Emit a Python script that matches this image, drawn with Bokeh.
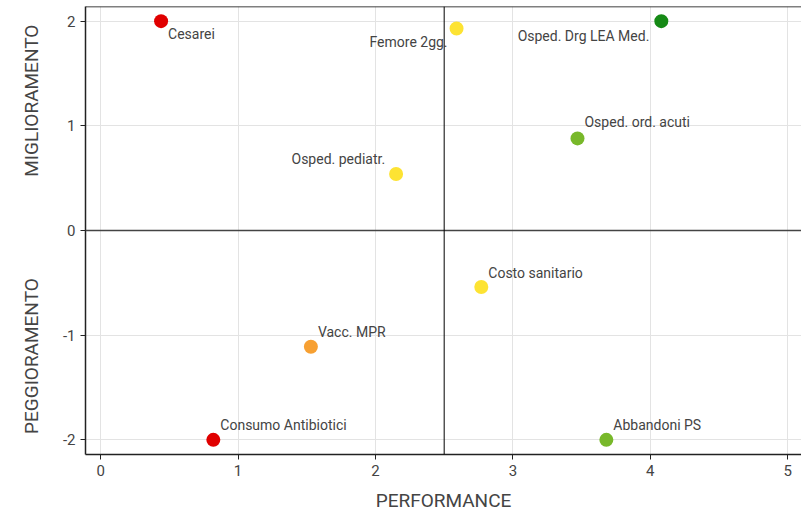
import math
from bokeh.plotting import figure
from bokeh.layouts import row
from bokeh.models import Span, ColumnDataSource, Range1d, FixedTicker, PrintfTickFormatter
from bokeh.core.properties import value
from bokeh.embed import file_html
from bokeh.resources import INLINE

names = ["Cesarei", "Femore 2gg.", "Osped. Drg LEA Med.", "Osped.  ord. acuti",
         "Osped. pediatr.", "Costo sanitario", "Vacc. MPR", "Consumo Antibiotici", "Abbandoni PS"]
performance = [0.44, 2.59, 4.08, 3.47, 2.15, 2.77, 1.53, 0.82, 3.68]
trend = [2.0, 1.93, 2.0, 0.88, 0.54, -0.54, -1.11, -2.0, -2.0]
colors = ["#e00000", "#fde333", "#168a16", "#78b82a", "#fde333", "#fde333", "#f7a032", "#e00000", "#78b82a"]
x_ticks = [0, 1, 2, 3, 4, 5]
y_ticks = [-2, -1, 0, 1, 2]
y_titles = ["MIGLIORAMENTO", "PEGGIORAMENTO"]
y_title_pos = [1.24, -1.2]

# label placement (screen px) and alignment
lab_dx = [7, -9, -12, 7, -11, 7, 7, 7, 7]
lab_dy = [13, 14, 15, -16, -15, -14, -15, -15, -15]
lab_align = ["left", "right", "right", "left", "right", "left", "left", "left", "left"]

FONT = "Roboto"
src = ColumnDataSource(dict(x=performance, y=trend, c=colors, name=names,
                            dx=lab_dx, dy=lab_dy, al=lab_align))

yr = Range1d(-2.14, 2.14)

# narrow strip carrying the two vertical axis titles
side = figure(frame_width=50, frame_height=448, output_backend="svg", toolbar_location=None,
              x_range=Range1d(0, 1), y_range=yr,
              min_border_left=0, min_border_right=0, min_border_top=6, min_border_bottom=60)
side.axis.visible = False
side.grid.visible = False
side.outline_line_color = None
side.text(x=[0.62, 0.62], y=y_title_pos, text=y_titles, angle=math.pi / 2,
          text_align="center", text_baseline="middle", text_font=value(FONT),
          text_font_size="19px", text_color="#444444")

p = figure(frame_width=716, frame_height=448, output_backend="svg", toolbar_location=None,
           x_range=Range1d(-0.11, 5.10), y_range=yr,
           min_border_left=35, min_border_right=0, min_border_top=6, min_border_bottom=60)
p.outline_line_color = None
p.background_fill_color = "white"
p.border_fill_color = "white"

p.xgrid.grid_line_color = "#e3e3e3"
p.ygrid.grid_line_color = "#e3e3e3"
p.xaxis.ticker = FixedTicker(ticks=x_ticks)
p.yaxis.ticker = FixedTicker(ticks=y_ticks)
p.xaxis.formatter = PrintfTickFormatter(format="%d")
p.yaxis.formatter = PrintfTickFormatter(format="%d")
for ax in (p.xaxis, p.yaxis):
    ax.axis_line_color = "#222222"
    ax.axis_line_width = 1.5
    ax.major_tick_line_color = "#222222"
    ax.major_tick_out = 5
    ax.major_tick_in = 0
    ax.minor_tick_line_color = None
    ax.major_label_text_font = FONT
    ax.major_label_text_font_size = "15px"
    ax.major_label_text_color = "#444444"
p.xaxis.axis_label = "PERFORMANCE"
p.xaxis.axis_label_text_font = FONT
p.xaxis.axis_label_text_font_size = "19px"
p.xaxis.axis_label_text_font_style = "normal"
p.xaxis.axis_label_text_color = "#444444"
p.xaxis.axis_label_standoff = 10

p.add_layout(Span(location=0, dimension="width", line_color="#444444", line_width=1.5))
p.add_layout(Span(location=2.5, dimension="height", line_color="#000000", line_width=1))
p.add_layout(Span(location=2.14, dimension="width", line_color="#000000", line_width=1.5))

p.scatter("x", "y", source=src, size=14, fill_color="c", line_color=None)
p.text("x", "y", text="name", source=src, x_offset="dx", y_offset="dy", text_align="al",
       text_baseline="middle", text_font=value(FONT), text_font_size="14px", text_color="#444444")

layout = row(side, p)
open("out.html", "w").write(file_html(layout, INLINE))
